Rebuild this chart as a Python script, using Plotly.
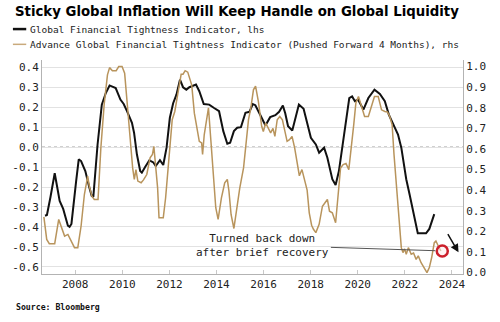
import plotly.graph_objects as go

# Global Financial Tightness Indicator (left axis)
gfti_year = [2006.72, 2006.80, 2006.95, 2007.13, 2007.25, 2007.34, 2007.49, 2007.69, 2007.76, 2007.84,
             2008.04, 2008.15, 2008.25, 2008.43, 2008.60, 2008.70, 2008.77, 2008.95, 2009.13, 2009.30,
             2009.46, 2009.60, 2009.72, 2009.92, 2010.06, 2010.20, 2010.41, 2010.50, 2010.62, 2010.76,
             2010.83, 2010.97, 2011.15, 2011.32, 2011.42, 2011.60, 2011.74, 2011.88, 2012.02, 2012.16,
             2012.30, 2012.45, 2012.58, 2012.72, 2012.85, 2013.13, 2013.27, 2013.46, 2013.69, 2013.90,
             2014.11, 2014.29, 2014.46, 2014.58, 2014.74, 2014.88, 2015.04, 2015.23, 2015.40, 2015.54,
             2015.65, 2015.85, 2016.08, 2016.28, 2016.50, 2016.66, 2016.82, 2016.92, 2017.04, 2017.22,
             2017.35, 2017.50, 2017.70, 2017.87, 2018.01, 2018.22, 2018.36, 2018.57, 2018.71, 2018.92,
             2019.06, 2019.20, 2019.34, 2019.48, 2019.64, 2019.76, 2019.88, 2020.01, 2020.24, 2020.45,
             2020.71, 2020.94, 2021.15, 2021.32, 2021.50, 2021.71, 2021.85, 2022.06, 2022.20, 2022.38,
             2022.55, 2022.90, 2023.04, 2023.25]
gfti_value = [-0.344, -0.34, -0.25, -0.131, -0.21, -0.27, -0.31, -0.394, -0.40, -0.385,
              -0.17, -0.061, -0.07, -0.12, -0.203, -0.244, -0.25, 0.013, 0.213, 0.271,
              0.309, 0.30, 0.296, 0.238, 0.216, 0.18, 0.122, 0.072, -0.036, -0.12,
              -0.128, -0.10, -0.066, -0.077, -0.095, -0.066, -0.09, -0.003, 0.147, 0.22,
              0.263, 0.338, 0.30, 0.288, 0.30, 0.313, 0.28, 0.216, 0.213, 0.196,
              0.18, 0.08, 0.017, 0.022, 0.08, 0.097, 0.10, 0.172, 0.177, 0.216,
              0.21, 0.163, 0.108, 0.15, 0.16, 0.177, 0.208, 0.17, 0.105, 0.083,
              0.14, 0.213, 0.192, 0.113, 0.047, 0.013, -0.028, -0.003, -0.053, -0.161,
              -0.19, -0.12, -0.003, 0.13, 0.246, 0.254, 0.23, 0.238, 0.188, 0.246,
              0.288, 0.266, 0.23, 0.163, 0.113, 0.063, -0.003, -0.161, -0.236, -0.336,
              -0.432, -0.432, -0.41, -0.336]

# Advance indicator, pushed forward 4 months (right axis)
adv_year = [2006.67, 2006.79, 2006.90, 2007.13, 2007.30, 2007.41, 2007.55, 2007.69, 2007.83, 2007.97,
            2008.11, 2008.25, 2008.39, 2008.53, 2008.60, 2008.71, 2008.81, 2008.97, 2009.09, 2009.23,
            2009.37, 2009.46, 2009.58, 2009.74, 2009.85, 2009.99, 2010.10, 2010.20, 2010.31, 2010.44,
            2010.51, 2010.58, 2010.66, 2010.80, 2010.90, 2011.04, 2011.18, 2011.28, 2011.34, 2011.42,
            2011.50, 2011.56, 2011.74, 2011.84, 2011.92, 2012.02, 2012.12, 2012.23, 2012.36, 2012.50,
            2012.58, 2012.67, 2012.78, 2012.90, 2012.95, 2013.06, 2013.16, 2013.27, 2013.37, 2013.41,
            2013.48, 2013.59, 2013.66, 2013.76, 2013.87, 2013.97, 2014.07, 2014.21, 2014.35, 2014.46,
            2014.53, 2014.62, 2014.74, 2014.85, 2014.99, 2015.15, 2015.27, 2015.36, 2015.46, 2015.57,
            2015.66, 2015.78, 2015.92, 2015.99, 2016.09, 2016.20, 2016.30, 2016.40, 2016.48, 2016.58,
            2016.69, 2016.80, 2016.90, 2017.00, 2017.10, 2017.21, 2017.32, 2017.41, 2017.52, 2017.63,
            2017.73, 2017.85, 2017.94, 2018.04, 2018.12, 2018.22, 2018.36, 2018.50, 2018.61, 2018.71,
            2018.80, 2018.92, 2019.06, 2019.17, 2019.27, 2019.38, 2019.50, 2019.62, 2019.73, 2019.83,
            2019.92, 2020.03, 2020.14, 2020.29, 2020.45, 2020.59, 2020.71, 2020.87, 2021.01, 2021.15,
            2021.26, 2021.36, 2021.46, 2021.54, 2021.64, 2021.74, 2021.85, 2021.92, 2021.99, 2022.06,
            2022.15, 2022.27, 2022.37, 2022.48, 2022.57, 2022.69, 2022.83, 2022.94, 2023.04, 2023.14,
            2023.25, 2023.32, 2023.42, 2023.53]
adv_value = [0.27, 0.161, 0.14, 0.14, 0.258, 0.218, 0.177, 0.185, 0.153, 0.121,
             0.121, 0.226, 0.379, 0.468, 0.419, 0.371, 0.355, 0.355, 0.605, 0.815,
             0.96, 0.995, 0.98, 0.98, 1.0, 1.0, 0.968, 0.823, 0.653, 0.508,
             0.452, 0.50, 0.444, 0.436, 0.45, 0.476, 0.557, 0.573, 0.613, 0.524,
             0.411, 0.266, 0.266, 0.363, 0.476, 0.621, 0.742, 0.782, 0.879, 0.963,
             0.963, 0.98, 0.973, 0.927, 0.91, 0.774, 0.71, 0.637, 0.629, 0.573,
             0.669, 0.766, 0.80, 0.645, 0.46, 0.315, 0.258, 0.363, 0.436, 0.452,
             0.395, 0.282, 0.214, 0.298, 0.411, 0.508, 0.637, 0.742, 0.80, 0.887,
             0.905, 0.83, 0.71, 0.685, 0.726, 0.702, 0.678, 0.70, 0.661, 0.742,
             0.758, 0.742, 0.694, 0.637, 0.645, 0.661, 0.605, 0.54, 0.47, 0.50,
             0.45, 0.40, 0.29, 0.23, 0.21, 0.194, 0.234, 0.322, 0.339, 0.355,
             0.298, 0.29, 0.242, 0.379, 0.508, 0.524, 0.53, 0.50, 0.605, 0.718,
             0.823, 0.855, 0.815, 0.758, 0.758, 0.815, 0.855, 0.855, 0.79, 0.782,
             0.78, 0.758, 0.718, 0.573, 0.411, 0.266, 0.121, 0.097, 0.115, 0.089,
             0.121, 0.089, 0.095, 0.064, 0.081, 0.048, 0.024, 0.0, 0.024, 0.073,
             0.145, 0.153, 0.129, 0.105]

# Latest reading highlighted with a ring
latest_year = [2023.59]
latest_value = [0.105]

left_ticks = [-0.6, -0.5, -0.4, -0.3, -0.2, -0.1, 0.0, 0.1, 0.2, 0.3, 0.4]
left_labels = ["-0.6", "-0.5", "-0.4", "-0.3", "-0.2", "-0.1", "0.0", "0.1", "0.2", "0.3", "0.4"]
right_ticks = [0.0, 0.1, 0.2, 0.3, 0.4, 0.5, 0.6, 0.7, 0.8, 0.9, 1.0]
right_labels = ["0.0", "0.1", "0.2", "0.3", "0.4", "0.5", "0.6", "0.7", "0.8", "0.9", "1.0"]
year_ticks = [2008, 2010, 2012, 2014, 2016, 2018, 2020, 2022, 2024]
year_labels = [str(y) for y in year_ticks]

TITLE = "Sticky Global Inflation Will Keep Handle on Global Liquidity"
LEGEND_1 = "Global Financial Tightness Indicator, lhs"
LEGEND_2 = "Advance Global Financial Tightness Indicator (Pushed Forward 4 Months), rhs"
NOTE = "Turned back down<br>after brief recovery"
SOURCE = "Source: Bloomberg"

BLACK = "#111111"
GOLD = "#b8945c"
GOLD_SWATCH = "#c9aa7c"
RED = "#cc1f2b"
AXIS = "#b3b3b3"
GRID = "#e2e2e2"
MONO = "DejaVu Sans Mono"

# plot-area box in pixels, used to place the header and footer texts
W, H = 500, 322
PL, PR, PT, PB = 36, 463, 60, 274.5


def px(x):
    return (x - PL) / (PR - PL)


def py(y):
    return (PB - y) / (PB - PT)


fig = go.Figure()
fig.add_trace(go.Scatter(x=adv_year, y=adv_value, yaxis="y2", mode="lines",
                         line=dict(color=GOLD, width=1.5), showlegend=False, hoverinfo="skip"))
fig.add_trace(go.Scatter(x=gfti_year, y=gfti_value, yaxis="y", mode="lines",
                         line=dict(color=BLACK, width=2), showlegend=False, hoverinfo="skip"))
fig.add_trace(go.Scatter(x=latest_year, y=latest_value, yaxis="y2", mode="markers",
                         marker=dict(size=11, color="rgba(255,235,235,0.55)",
                                     line=dict(color=RED, width=2.5)),
                         showlegend=False, hoverinfo="skip"))

shapes = [
    # dashed zero line on the left axis
    dict(type="line", xref="paper", yref="y", x0=0, x1=1, y0=0, y1=0, layer="below",
         line=dict(color="#8c8c8c", width=1, dash="3px,3px")),
    # legend swatches
    dict(type="line", xref="paper", yref="paper", x0=px(6.5), x1=px(20), y0=py(29), y1=py(29),
         line=dict(color=BLACK, width=2.5)),
    dict(type="line", xref="paper", yref="paper", x0=px(6.5), x1=px(20), y0=py(44.3), y1=py(44.3),
         line=dict(color=GOLD_SWATCH, width=1.5)),
]

annotations = [
    dict(text="<b>" + TITLE + "</b>", xref="paper", yref="paper", x=px(6.5), y=py(11.5),
         xanchor="left", yanchor="middle", showarrow=False,
         font=dict(family="DejaVu Sans", size=13.3, color="#000000")),
    dict(text=LEGEND_1, xref="paper", yref="paper", x=px(21.5), y=py(29),
         xanchor="left", yanchor="middle", showarrow=False,
         font=dict(family=MONO, size=9.5, color="#222222")),
    dict(text=LEGEND_2, xref="paper", yref="paper", x=px(21.5), y=py(44.3),
         xanchor="left", yanchor="middle", showarrow=False,
         font=dict(family=MONO, size=9.5, color="#222222")),
    dict(text="<b>" + SOURCE + "</b>", xref="paper", yref="paper", x=px(8), y=py(307.5),
         xanchor="left", yanchor="middle", showarrow=False,
         font=dict(family=MONO, size=8.2, color="#111111")),
    # callout text with a connector to the highlighted reading
    dict(text=NOTE, x=latest_year[0], y=latest_value[0], xref="x", yref="y2",
         ax=2015.97, ay=0.133, axref="x", ayref="y2", showarrow=True,
         arrowhead=0, arrowwidth=1, arrowcolor="#555555", standoff=7,
         font=dict(family=MONO, size=11, color="#222222"), align="center"),
    # downward arrow beside the ring
    dict(text="", x=2024.28, y=0.098, xref="x", yref="y2",
         ax=2023.79, ay=0.194, axref="x", ayref="y2", showarrow=True,
         arrowhead=2, arrowsize=1.1, arrowwidth=1.5, arrowcolor=BLACK),
]

fig.update_layout(
    width=W, height=H,
    margin=dict(l=PL, r=W - PR, t=PT, b=H - PB),
    paper_bgcolor="white", plot_bgcolor="white",
    showlegend=False,
    shapes=shapes, annotations=annotations,
    xaxis=dict(range=[2006.59, 2024.47], tickvals=year_ticks, ticktext=year_labels,
               showgrid=False, zeroline=False, showline=True, linecolor=AXIS, linewidth=1,
               ticks="inside", ticklen=4, tickcolor="#c8c8c8",
               tickfont=dict(family=MONO, size=11, color="#222222")),
    yaxis=dict(range=[-0.636, 0.4365], tickvals=left_ticks, ticktext=left_labels,
               showgrid=True, gridcolor=GRID, gridwidth=1, zeroline=False,
               showline=True, linecolor=AXIS, linewidth=1, ticks="",
               tickfont=dict(family=MONO, size=11, color="#222222")),
    yaxis2=dict(range=[-0.007, 1.032], tickvals=right_ticks, ticktext=right_labels,
                overlaying="y", side="right", showgrid=False, zeroline=False,
                showline=True, linecolor=AXIS, linewidth=1, ticks="",
                tickfont=dict(family=MONO, size=11, color="#222222")),
)

fig.write_html("out.html")
